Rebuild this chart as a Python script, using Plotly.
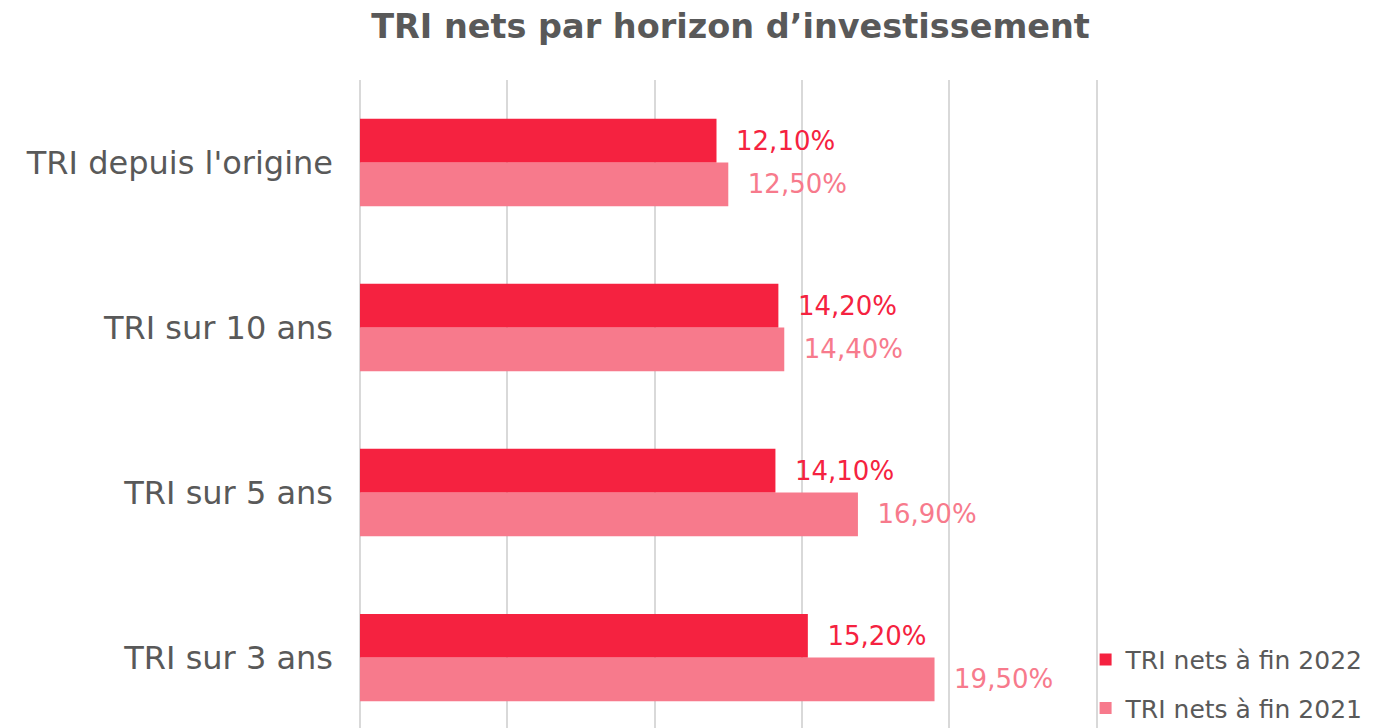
import plotly.graph_objects as go

categories = ["TRI sur 3 ans", "TRI sur 5 ans", "TRI sur 10 ans", "TRI depuis l'origine"]
tri_2022 = [15.2, 14.1, 14.2, 12.1]
tri_2021 = [19.5, 16.9, 14.4, 12.5]
labels_2022 = ["15,20%", "14,10%", "14,20%", "12,10%"]
labels_2021 = ["19,50%", "16,90%", "14,40%", "12,50%"]

c2022 = "#F52240"
c2021 = "#F77A8C"
FONT = "DejaVu Sans"
GREY = "#595959"

fig = go.Figure()
fig.add_trace(go.Bar(
    y=categories, x=tri_2021, orientation="h", name="TRI nets à fin 2021",
    legendgroup="g2021", legendrank=2,
    marker=dict(color=c2021, line=dict(width=0)),
    text=["\u00a0\u00a0" + t for t in labels_2021], textposition="outside",
    textfont=dict(color=c2021, size=26, family=FONT), cliponaxis=False,
))
fig.add_trace(go.Bar(
    y=categories, x=tri_2022, orientation="h", name="TRI nets à fin 2022",
    legendgroup="g2022", legendrank=1,
    marker=dict(color=c2022, line=dict(width=0)),
    text=["\u00a0\u00a0" + t for t in labels_2022], textposition="outside",
    textfont=dict(color=c2022, size=26, family=FONT), cliponaxis=False,
))

XMAX = 25.15
SCALE = 737 / 25.0
plot_w = SCALE * XMAX

fig.update_layout(
    width=1373, height=728,
    barmode="group", bargap=0.47, bargroupgap=0,
    plot_bgcolor="white", paper_bgcolor="white",
    margin=dict(l=352, r=1373 - 352 - plot_w, t=72, b=0),
    title=dict(text="<b>TRI nets par horizon d’investissement</b>", x=0.5, xanchor="center",
               xref="paper", y=1 - 18 / 728, yanchor="middle",
               font=dict(size=33.5, color=GREY, family=FONT)),
    font=dict(family=FONT, color=GREY),
    xaxis=dict(range=[0, XMAX], tickvals=[0, 5, 10, 15, 20, 25], showticklabels=False,
               showgrid=True, gridcolor="#D9D9D9", gridwidth=2, zeroline=True,
               zerolinecolor="#D9D9D9", zerolinewidth=2, showline=False, fixedrange=True),
    yaxis=dict(categoryorder="array", categoryarray=categories, range=[-0.475, 3.5],
               tickfont=dict(size=32, color=GREY, family=FONT), ticks="",
               ticklabelstandoff=26, showgrid=False, showline=False),
    legend=dict(x=(1078 - 352) / plot_w, xanchor="left", y=0.008, yanchor="bottom",
                traceorder="grouped",
                font=dict(size=25, color=GREY, family=FONT),
                itemwidth=30, tracegroupgap=13, bgcolor="rgba(0,0,0,0)"),
)

fig.write_html("out.html")
